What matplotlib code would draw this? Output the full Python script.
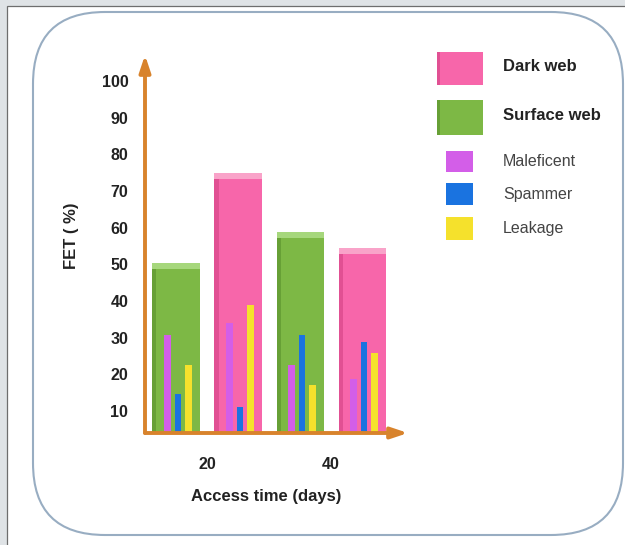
import matplotlib
matplotlib.use("Agg")
import matplotlib.pyplot as plt
from matplotlib.patches import Rectangle, FancyBboxPatch

# ---------------- data ----------------
access_days = [20, 40]
x_tick_labels = ["20", "40"]
y_ticks = [10, 20, 30, 40, 50, 60, 70, 80, 90, 100]

surface_web = [50.4, 58.7]
dark_web = [74.8, 54.5]

maleficent_surface = [30.7, 22.5]
maleficent_dark = [34.1, 18.6]
spammer_surface = [14.6, 30.7]
spammer_dark = [11.2, 28.9]
leakage_surface = [22.5, 17.1]
leakage_dark = [38.9, 25.7]

web_names = ["Dark web", "Surface web"]
threat_names = ["Maleficent", "Spammer", "Leakage"]

# ---------------- styles ----------------
PINK, PINK_TOP, PINK_EDGE = "#f766aa", "#f9a3c9", "#d9478a"
GREEN, GREEN_TOP, GREEN_EDGE = "#7db845", "#a6d77c", "#5e9630"
THREAT_COLORS = ["#d35ee8", "#1a73e0", "#f5e12c"]
AXIS_COLOR = "#d8832c"
FONT = "Liberation Sans"

W, H = 625, 545
fig = plt.figure(figsize=(W / 100, H / 100), dpi=100, facecolor="#dfe3e6")


def fx(x):
    return x / W


def fy(y):
    return 1 - y / H


# white page with thin dark border on left / top
fig.add_artist(Rectangle((0.07, -0.1), 6.5, 5.49, transform=fig.dpi_scale_trans,
                         facecolor="white", edgecolor="#6e6e6e", lw=0.9, zorder=0))
# rounded frame
fig.add_artist(FancyBboxPatch((0.33, 0.10), 5.90, 5.23,
                              boxstyle="round,pad=0,rounding_size=0.72",
                              transform=fig.dpi_scale_trans, facecolor="white",
                              edgecolor="#98adc2", lw=1.5, zorder=0.5))

# ---------------- axes ----------------
ax = fig.add_axes([fx(145), 1 - 433 / H, 263 / W, 378 / H])
ax.set_zorder(2)
ax.patch.set_visible(False)
ax.set_xlim(10, 52.4)
ax.set_ylim(4, 107.1)
for s in ax.spines.values():
    s.set_visible(False)

big_w = 7.6
small_w = 1.05
offsets = [-1.4, 0.3, 2.0]
band = 1.6
edge_w = 0.65


def draw_group(xc, height, base, top, edge, threats):
    ax.bar(xc, height, width=big_w, color=base, zorder=2)
    ax.bar(xc, band, bottom=height - band, width=big_w, color=top, zorder=3)
    ax.bar(xc - big_w / 2 + edge_w / 2, height - band, width=edge_w,
           color=edge, zorder=3, alpha=0.7)
    for off, val, col in zip(offsets, threats, THREAT_COLORS):
        ax.bar(xc + off, val, width=small_w, color=col, zorder=4)


for i, d in enumerate(access_days):
    draw_group(d - 5, surface_web[i], GREEN, GREEN_TOP, GREEN_EDGE,
               [maleficent_surface[i], spammer_surface[i], leakage_surface[i]])
    draw_group(d + 5, dark_web[i], PINK, PINK_TOP, PINK_EDGE,
               [maleficent_dark[i], spammer_dark[i], leakage_dark[i]])

# axis arrows
arrow = dict(arrowstyle="-|>,head_length=0.9,head_width=0.3", lw=2.8,
             color=AXIS_COLOR, shrinkA=0, shrinkB=0, mutation_scale=11)
ax.annotate("", xy=(0, 1), xytext=(0, 0), xycoords="axes fraction",
            arrowprops=arrow, zorder=6)
ax.annotate("", xy=(1, 0), xytext=(0, 0), xycoords="axes fraction",
            arrowprops=arrow, zorder=6)

ax.set_yticks(y_ticks)
ax.set_yticklabels([str(t) for t in y_ticks])
ax.set_xticks(access_days)
ax.set_xticklabels(x_tick_labels)
ax.tick_params(axis="y", length=0, pad=12, labelsize=11.5, labelcolor="#222222")
ax.tick_params(axis="x", length=0, pad=17, labelsize=11.5, labelcolor="#222222")
for lab in ax.get_xticklabels() + ax.get_yticklabels():
    lab.set_fontfamily(FONT)
    lab.set_fontweight("bold")

ax.set_xlabel("Access time (days)", fontsize=12, fontweight="bold",
              family=FONT, color="#222222", va="center")
ax.xaxis.set_label_coords(0.462, -0.1667)
ax.set_ylabel("FET ( %)", fontsize=12, fontweight="bold", family=FONT,
              color="#222222", va="center")
ax.yaxis.set_label_coords(-0.2786, 0.521)

# ---------------- legend (drawn manually) ----------------
big_boxes = [(52, 85, PINK, PINK_EDGE), (100, 135, GREEN, GREEN_EDGE)]
for name, (y0, y1, col, ecol) in zip(web_names, big_boxes):
    fig.add_artist(Rectangle((fx(437), fy(y1)), 46 / W, (y1 - y0) / H,
                             transform=fig.transFigure, facecolor=col,
                             edgecolor="none", zorder=3))
    fig.add_artist(Rectangle((fx(437), fy(y1)), 3 / W, (y1 - y0) / H,
                             transform=fig.transFigure, facecolor=ecol,
                             edgecolor="none", alpha=0.7, zorder=3))
    fig.text(fx(503), fy((y0 + y1) / 2 - 2), name, fontsize=12,
             fontweight="bold", family=FONT, color="#222222", va="center",
             ha="left")

small_boxes = [(151, 172), (183, 205), (217, 240)]
for name, (y0, y1), col in zip(threat_names, small_boxes, THREAT_COLORS):
    fig.add_artist(Rectangle((fx(446), fy(y1)), 27 / W, (y1 - y0) / H,
                             transform=fig.transFigure, facecolor=col,
                             edgecolor="none", zorder=3))
    fig.text(fx(503), fy((y0 + y1) / 2), name, fontsize=11.5,
             family=FONT, color="#444444", va="center", ha="left")

fig.savefig("out.png", dpi=100, facecolor=fig.get_facecolor())
